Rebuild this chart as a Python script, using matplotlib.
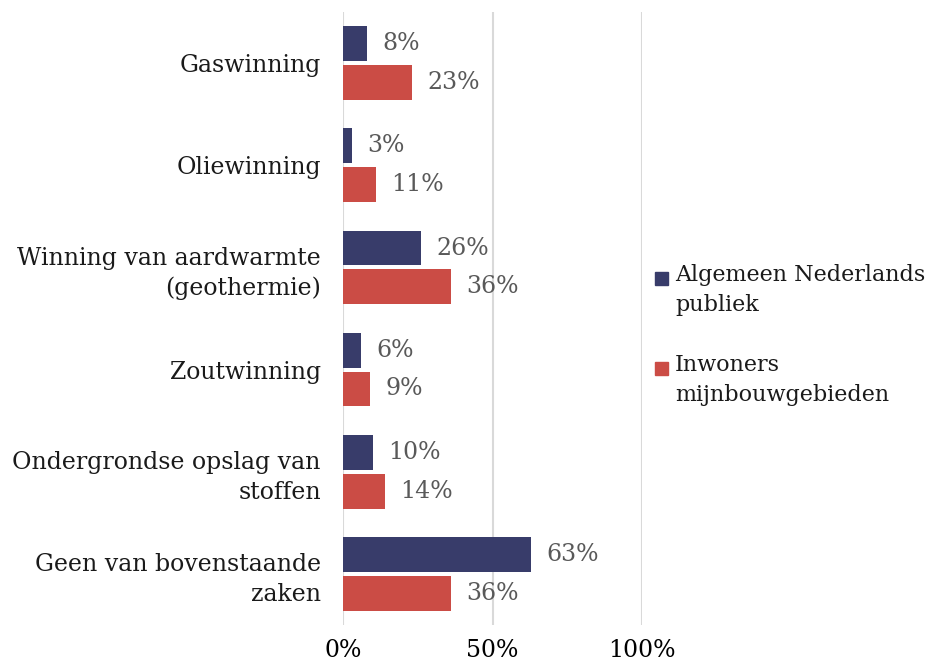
import numpy as np
import matplotlib.pyplot as plt
from matplotlib.patches import Rectangle

categories = ["Gaswinning", "Oliewinning", "Winning van aardwarmte\n(geothermie)",
              "Zoutwinning", "Ondergrondse opslag van\nstoffen", "Geen van bovenstaande\nzaken"]
publiek = [8, 3, 26, 6, 10, 63]
inwoners = [23, 11, 36, 9, 14, 36]
series_names = ["Algemeen Nederlands\npubliek", "Inwoners\nmijnbouwgebieden"]
colors = ['#383C6A', '#CB4C45']
xticks = [0, 50, 100]

plt.rcParams['font.family'] = ['DejaVu Serif']

fig = plt.figure(figsize=(9.38, 6.68), dpi=100)
ax = fig.add_axes([343/938, 1 - 625/668, (642 - 343)/938, (625 - 12)/668])

y = np.arange(len(categories))
h = 0.34
b1 = ax.barh(y - 0.19, publiek, height=h, color=colors[0], label=series_names[0])
b2 = ax.barh(y + 0.19, inwoners, height=h, color=colors[1], label=series_names[1])

for bars, vals in [(b1, publiek), (b2, inwoners)]:
    for bar, v in zip(bars, vals):
        ax.annotate(f"{v}%", (bar.get_width(), bar.get_y() + bar.get_height() / 2),
                    xytext=(11, 0), textcoords='offset points', va='center', ha='left',
                    fontsize=17, color='#595959')

ax.set_ylim(len(categories) - 0.5, -0.5)
ax.set_xlim(0, 100)
ax.set_yticks(y)
ax.set_yticklabels(categories, fontsize=17, color='#1a1a1a', linespacing=1.35)
ax.set_xticks(xticks)
ax.set_xticklabels([f"{t}%" for t in xticks], fontsize=17)
ax.tick_params(axis='both', length=0)
ax.tick_params(axis='x', pad=10)
ax.tick_params(axis='y', pad=16)
for s in ax.spines.values():
    s.set_visible(False)
ax.grid(axis='x', color='#D9D9D9', linewidth=1.5)
ax.set_axisbelow(True)

# legend drawn by hand so the square sits next to the first line (like Excel)
W, H = 938, 668
for i, (name, c) in enumerate(zip(series_names, colors)):
    ytop = 278 + i * 90
    fig.patches.append(Rectangle((655 / W, 1 - (ytop + 6.5) / H), 13 / W, 13 / H,
                                 color=c, transform=fig.transFigure))
    fig.text(675 / W, 1 - (ytop - 14) / H, name, fontsize=16, va='top', ha='left',
             linespacing=1.5, color='#1a1a1a')

fig.savefig('out.png', dpi=100)
